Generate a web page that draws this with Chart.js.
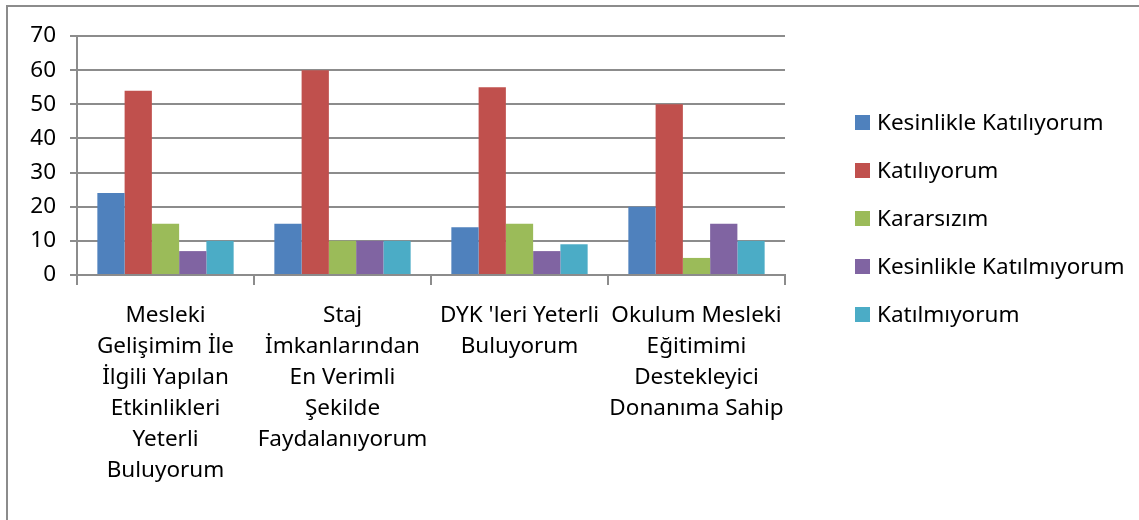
<!DOCTYPE html>
<html>
<head>
<meta charset="utf-8">
<script src="https://cdn.jsdelivr.net/npm/chart.js@4"></script>
<style>
  html, body { margin: 0; padding: 0; background: #fff; }
  #wrap { position: relative; width: 1139px; height: 520px; overflow: hidden; }
  #frame { position: absolute; left: 6px; top: 5px; width: 1160px; height: 560px; border: 2px solid #8c8c8c; box-sizing: border-box; }
  canvas { position: absolute; left: 0; top: 0; }
  #legend { position: absolute; left: 855px; top: 106px; font-family: "Noto Sans", sans-serif; font-size: 22.5px; color: #000; }
  #legend .item { height: 48px; display: flex; align-items: flex-start; white-space: nowrap; }
  #legend .box { width: 15px; height: 15px; margin-right: 7px; margin-top: 9px; flex: none; }
</style>
</head>
<body>
<div id="wrap">
  <div id="frame"></div>
  <canvas id="c" width="1139" height="520"></canvas>
  <div id="legend"></div>
</div>
<script>
const categories = [
  ["Mesleki", "Gelişimim İle", "İlgili Yapılan", "Etkinlikleri", "Yeterli", "Buluyorum"],
  ["Staj", "İmkanlarından", "En Verimli", "Şekilde", "Faydalanıyorum"],
  ["DYK 'leri Yeterli", "Buluyorum"],
  ["Okulum Mesleki", "Eğitimimi", "Destekleyici", "Donanıma Sahip"]
];
const seriesNames = ["Kesinlikle Katılıyorum", "Katılıyorum", "Kararsızım", "Kesinlikle Katılmıyorum", "Katılmıyorum"];
const kesinlikleKatiliyorum = [24, 15, 14, 20];
const katiliyorum = [54, 60, 55, 50];
const kararsizim = [15, 10, 15, 5];
const kesinlikleKatilmiyorum = [7, 10, 7, 15];
const katilmiyorum = [10, 10, 9, 10];
const yTicks = [0, 10, 20, 30, 40, 50, 60, 70];
const colors = ["#4F81BD", "#C0504D", "#9BBB59", "#8064A2", "#4BACC6"];

const seriesValues = [kesinlikleKatiliyorum, katiliyorum, kararsizim, kesinlikleKatilmiyorum, katilmiyorum];
const FONT = "'Noto Sans', sans-serif";
const gridColor = "#8c8c8c";

const chart = new Chart(document.getElementById("c"), {
  type: "bar",
  data: {
    labels: categories,
    datasets: seriesNames.map((n, i) => ({
      label: n,
      data: seriesValues[i],
      backgroundColor: colors[i],
      borderWidth: 0,
      categoryPercentage: 0.77,
      barPercentage: 1.0
    }))
  },
  options: {
    responsive: false,
    animation: false,
    devicePixelRatio: 1,
    layout: { padding: { left: 10, right: 354, top: 36, bottom: 0 } },
    plugins: { legend: { display: false }, tooltip: { enabled: false } },
    scales: {
      x: {
        grid: { offset: true, drawOnChartArea: false, drawTicks: true, tickLength: 10, color: gridColor, lineWidth: 2 },
        border: { display: true, color: gridColor, width: 2 },
        ticks: {
          color: "#000",
          font: { family: FONT, size: 22.5, lineHeight: 1.38 },
          padding: 15,
          maxRotation: 0,
          minRotation: 0,
          autoSkip: false
        },
        afterFit: (s) => { s.height = 245; }
      },
      y: {
        min: 0,
        max: 70,
        afterBuildTicks: (s) => { s.ticks = yTicks.map(v => ({ value: v })); },
        grid: { color: gridColor, lineWidth: 2, drawTicks: true, tickLength: 7 },
        border: { display: true, color: gridColor, width: 2 },
        ticks: {
          color: "#000",
          font: { family: FONT, size: 22.5 },
          padding: 14
        },
        afterFit: (s) => { s.width = 67; }
      }
    }
  }
});

const leg = document.getElementById("legend");
seriesNames.forEach((n, i) => {
  const d = document.createElement("div");
  d.className = "item";
  const b = document.createElement("span");
  b.className = "box";
  b.style.background = colors[i];
  const t = document.createElement("span");
  t.textContent = n;
  d.appendChild(b);
  d.appendChild(t);
  leg.appendChild(d);
});
</script>
</body>
</html>
